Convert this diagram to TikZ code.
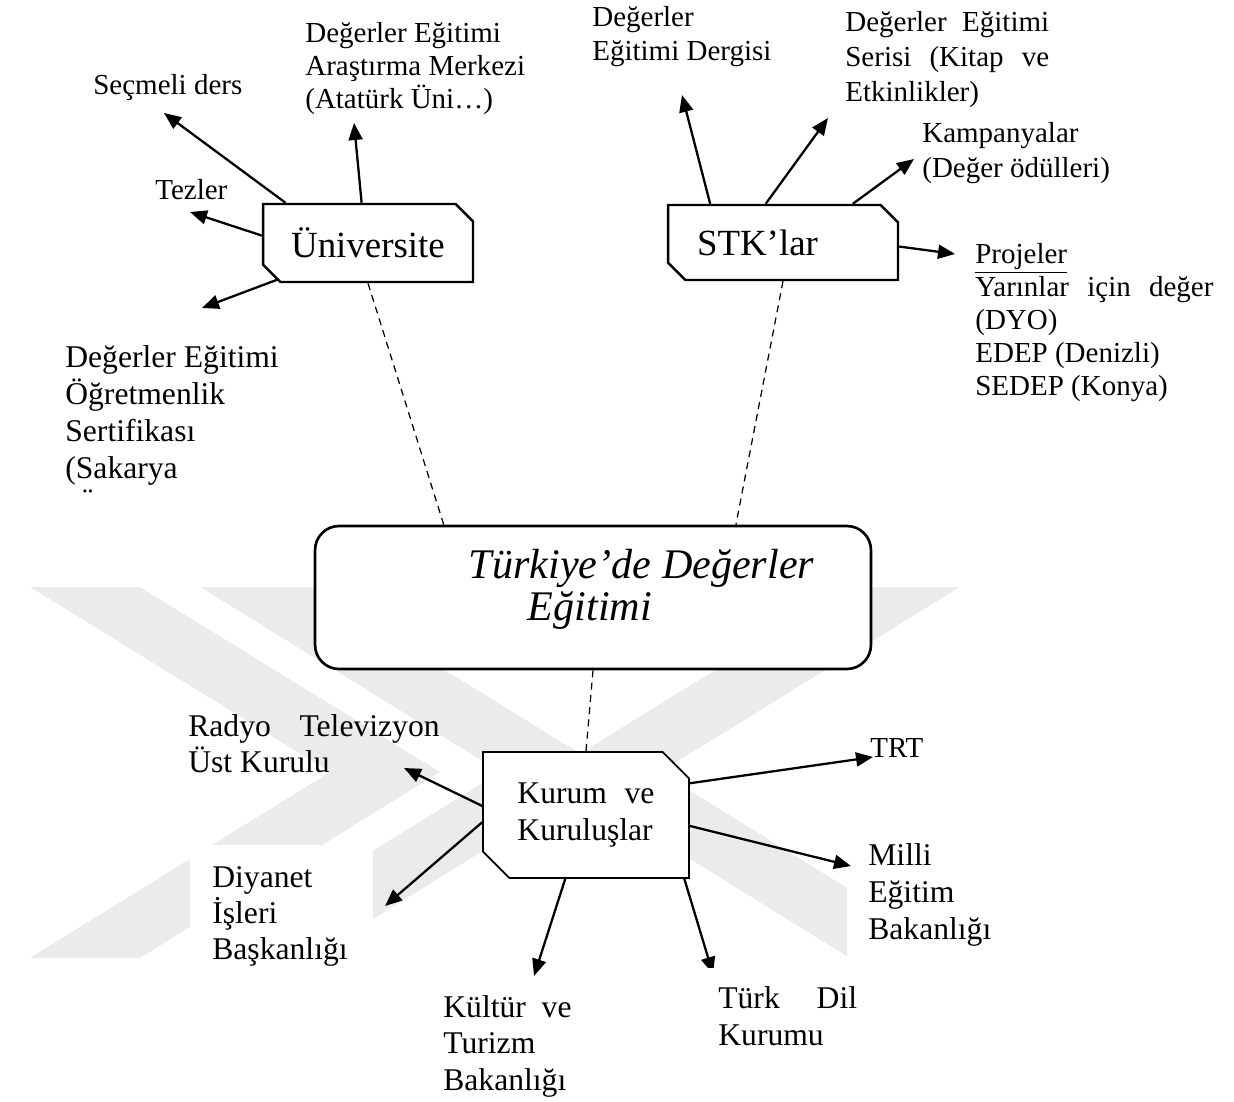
\documentclass[tikz,border=0pt]{standalone}
\usepackage{fontspec}
\setmainfont{Liberation Serif}
\usetikzlibrary{arrows.meta,shapes.misc}
\newcommand\fsz[2]{\fontsize{#1}{#2}\selectfont}
\definecolor{wmgray}{RGB}{235,235,235}
\begin{document}
\begin{tikzpicture}[x=0.02cm,y=-0.02cm,
  arr/.style={line width=1.3pt,-{Triangle[length=0.34cm,width=0.28cm]}},
  dashln/.style={line width=0.7pt,dash pattern=on 4pt off 3pt},
  snip/.style={chamfered rectangle,chamfered rectangle corners={north east,south west},
               draw,fill=white,inner sep=0pt},
  lbl/.style={anchor=base west,inner sep=0pt,align=left},
  txtS/.style={font=\fsz{16.5}{18.7}},
  txtL/.style={font=\fsz{18}{20.7}}
]
\useasboundingbox (0,0) rectangle (1234,1102);

% faint chevron background
\fill[wmgray] (30,587)--(140,587)--(440,772)--(140,958)--(30,958)--(330,772)--cycle;
\fill[wmgray] (200,587)--(310,587)--(610,772)--(310,958)--(200,958)--(500,772)--cycle;
\fill[wmgray] (960,587)--(850,587)--(550,772)--(850,958)--(960,958)--(660,772)--cycle;

% white panels behind two lower labels
\fill[white] (190,845) rectangle (373,965);
\fill[white] (847,825) rectangle (992,962);

% main boxes
\node[snip,line width=1.4pt,chamfered rectangle xsep=0.24cm,
      minimum width=4.2cm,minimum height=1.56cm,font=\fsz{21}{25}] (uni) at (368,243) {Üniversite};
\node[snip,line width=1.4pt,chamfered rectangle xsep=0.24cm,
      minimum width=4.6cm,minimum height=1.5cm,font=\fsz{21}{25}] (stk) at (783,242.5)
      {\makebox[3.44cm][l]{STK’lar}};
\node[snip,line width=1pt,chamfered rectangle xsep=0.42cm,align=left,
      minimum width=4.12cm,minimum height=2.52cm,font=\fsz{18}{21}] (kur) at (586,815)
      {\makebox[78pt][s]{Kurum ve}\\Kuruluşlar};
\node[draw,fill=white,rounded corners=0.48cm,line width=1.5pt,
      minimum width=11.12cm,minimum height=2.86cm,align=left,text depth=14pt,
      font=\fsz{24}{24}\itshape] (ctr) at (593,597.5)
      {\hspace*{1.94cm}Türkiye’de Değerler\\\hspace*{3.12cm}Eğitimi};

% labels round the university (placed by the baseline of their last line)
\node[lbl,txtS] (secmeli) at (93,94) {Seçmeli ders};
\node[lbl,txtS] (arastirma) at (305,108) {Değerler Eğitimi\\Araştırma Merkezi\\(Atatürk Üni…)};
\node[lbl,txtS] (tezler) at (155,199) {Tezler};
\node[lbl,font=\fsz{18}{21}] (sertifika) at (65,478) {Değerler Eğitimi\\Öğretmenlik\\Sertifikası\\(Sakarya};
\begin{scope}
  \clip (40,470) rectangle (200,493);
  \node[lbl,font=\fsz{18}{21}] (sertifikason) at (76,515) {Üniversitesi)};
\end{scope}

% labels round the NGOs
\node[lbl,font=\fsz{16.5}{19.3}] (dergi) at (592,60) {Değerler\\Eğitimi Dergisi};
\node[lbl,font=\fsz{16.5}{19.8}] (seri) at (845,101)
  {\makebox[116pt][s]{Değerler Eğitimi}\\\makebox[116pt][s]{Serisi (Kitap ve}\\Etkinlikler)};
\node[lbl,font=\fsz{16.5}{19.8}] (kampanya) at (922,177) {Kampanyalar\\(Değer ödülleri)};
\node[lbl,txtS] (proje) at (975,395)
  {\underline{Projeler}\\\makebox[135.5pt][s]{Yarınlar için değer}\\(DYO)\\EDEP (Denizli)\\SEDEP (Konya)};

% labels round the institutions
\node[lbl,font=\fsz{18}{20.4}] (rtuk) at (188,772) {\makebox[143pt][s]{Radyo Televizyon}\\Üst Kurulu};
\node[lbl,font=\fsz{18}{20.4}] (diyanet) at (212,959) {Diyanet\\İşleri\\Başkanlığı};
\node[lbl,font=\fsz{18}{21}] (milli) at (868,939) {Milli\\Eğitim\\Bakanlığı};
\node[lbl,font=\fsz{18}{20.7}] (kultur) at (443,1090) {\makebox[73pt][s]{Kültür ve}\\Turizm\\Bakanlığı};
\node[lbl,txtS] (trt) at (870,757) {TRT};

% arrow ends
\coordinate (tSec) at (164,113);
\coordinate (tAra) at (354,123);
\coordinate (tTez) at (190,212);
\coordinate (tSer) at (202,308);
\coordinate (tDer) at (682,95);
\coordinate (tSeri) at (828,118);
\coordinate (tKam) at (914,159);
\coordinate (tPro) at (955,254);
\coordinate (tRtu) at (404,768);
\coordinate (tDiy) at (385,906);
\coordinate (tKul) at (534,976);
\coordinate (tTdk) at (713,974);
\coordinate (tMil) at (851,866);
\coordinate (tTrt) at (873,757);

% dashed links to the centre
\draw[dashln] (uni.south) -- (ctr.154);
\draw[dashln] (stk.south) -- (ctr.27);
\draw[dashln] (ctr.south) -- (kur.north);

% arrows
\draw[arr] (uni.154) -- (tSec);
\draw[arr] (uni.99) -- (tAra);
\draw[arr] (uni.176) -- (tTez);
\draw[arr] (uni.202) -- (tSer);
\draw[arr] (stk.152) -- (tDer);
\draw[arr] (stk.114) -- (tSeri);
\draw[arr] (stk.29) -- (tKam);
\draw[arr] (stk.-2) -- (tPro);
\draw[arr] (kur.175) -- (tRtu);
\draw[arr] (kur.184) -- (tDiy);
\draw[arr] (kur.252) -- (tKul);
\draw[arr] (kur.327) -- (tTdk);
\draw[arr] (kur.-6) -- (tMil);
\draw[arr] (kur.17) -- (tTrt);

% last label sits on a white panel over its arrow tip
\fill[white] (700,968) rectangle (875,1060);
\node[lbl,font=\fsz{18}{21}] (turkdil) at (718,1045) {\makebox[79pt][s]{Türk Dil}\\Kurumu};
\end{tikzpicture}
\end{document}
